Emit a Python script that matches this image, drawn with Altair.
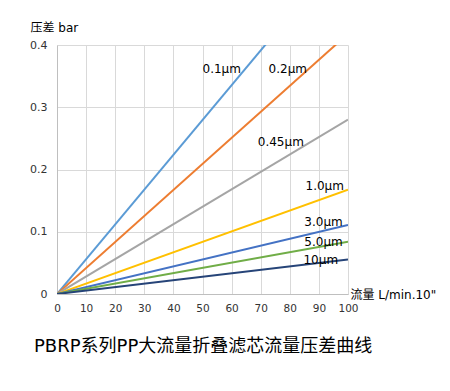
import altair as alt
import pandas as pd

series = ["0.1μm", "0.2μm", "0.45μm", "1.0μm", "3.0μm", "5.0μm", "10μm"]
colors = ["#5B9BD5", "#ED7D31", "#A5A5A5", "#FFC000", "#4472C4", "#70AD47", "#264478"]
flow = [0, 100]
dp_at_100 = [0.559, 0.418, 0.280, 0.1675, 0.111, 0.0838, 0.0553]

label_x = [50.0, 72.7, 69.0, 85.4, 85.0, 85.0, 84.7]
label_y = [0.362, 0.362, 0.2435, 0.174, 0.1157, 0.0838, 0.054]
x_ticks = [0, 10, 20, 30, 40, 50, 60, 70, 80, 90, 100]
y_ticks = [0, 0.1, 0.2, 0.3, 0.4]

rows = []
for s, v in zip(series, dp_at_100):
    rows.append({"series": s, "flow": flow[0], "dp": 0.0})
    rows.append({"series": s, "flow": flow[1], "dp": v})
df = pd.DataFrame(rows)
labels = pd.DataFrame({"series": series, "x": label_x, "y": label_y})

FONT = "'DejaVu Sans', 'Noto Sans CJK SC', sans-serif"

xs = alt.Scale(domain=[0, 100], nice=False)
ys = alt.Scale(domain=[0, 0.4], nice=False)

x_axis = alt.Axis(
    values=x_ticks, title="流量  L/min.10\"", titleAngle=0,
    titleAlign="left", titleBaseline="middle", titleX=293, titleY=0,
    titleFontWeight="normal", titleFontSize=12, titleFont=FONT,
    labelFont=FONT, labelFontSize=10.5, labelColor="#333333", labelPadding=9,
    labelOverlap=False, labelFlush=False,
    ticks=False, domainColor="#BFBFBF", gridColor="#D9D9D9")
y_axis = alt.Axis(
    values=y_ticks, title="压差  bar", titleAngle=0,
    titleAlign="left", titleBaseline="middle", titleX=-27, titleY=-18,
    titleFontWeight="normal", titleFontSize=12, titleFont=FONT,
    labelExpr="datum.value == 0 ? '0' : format(datum.value, '.1f')",
    labelFont=FONT, labelFontSize=11, labelColor="#333333", labelPadding=10,
    labelOverlap=False, labelFlush=False,
    ticks=False, domainColor="#BFBFBF", gridColor="#D9D9D9")

lines = alt.Chart(df).mark_line(strokeWidth=2, clip=True).encode(
    x=alt.X("flow:Q", scale=xs, axis=x_axis),
    y=alt.Y("dp:Q", scale=ys, axis=y_axis),
    color=alt.Color("series:N", scale=alt.Scale(domain=series, range=colors), legend=None),
)

texts = alt.Chart(labels).mark_text(align="left", baseline="middle", font=FONT,
                                    fontSize=12, color="#000000").encode(
    x=alt.X("x:Q", scale=xs, axis=x_axis),
    y=alt.Y("y:Q", scale=ys, axis=y_axis),
    text="series:N",
)

chart = (lines + texts).properties(
    width=291, height=249,
    padding={"left": 49, "top": 37, "right": 92, "bottom": 85},
    autosize=alt.AutoSizeParams(type="none"),
    title=alt.TitleParams("PBRP系列PP大流量折叠滤芯流量压差曲线", orient="bottom",
                          anchor="start", frame="group", dx=-23, offset=24,
                          font=FONT, fontSize=18, fontWeight="normal", color="#000000"),
).configure_view(stroke=None)

chart.save("out.html", embed_options={"renderer": "svg", "actions": False})
